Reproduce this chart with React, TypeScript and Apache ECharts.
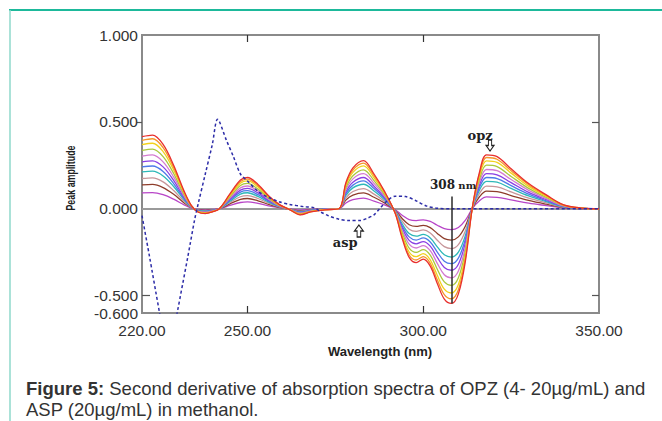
import React, { useEffect, useRef } from "react";
import * as echarts from "echarts";

// Wavelength grid (nm) shared by the OPZ curves
const wavelengths = [
  220, 223, 226, 229, 232, 234, 236, 238, 240, 242, 245, 248, 250, 253, 256, 259,
  262, 265, 268, 272, 276, 278, 280, 283, 286, 289, 292, 294, 296, 298, 300, 302,
  304, 306, 308, 310, 312, 314, 316, 318, 321, 325, 330, 335, 340, 345, 350,
];

// Second-derivative amplitudes of OPZ, lowest to highest concentration
const opzA = [0.091, 0.093, 0.081, 0.055, 0.022, 0.004, -0.004, -0.006, -0.004, 0, 0.019, 0.036, 0.04, 0.031, 0.017, 0.006, -0.001, -0.008, -0.004, -0.001, 0, 0.033, 0.052, 0.061, 0.044, 0.022, -0.006, -0.037, -0.062, -0.068, -0.064, -0.073, -0.095, -0.114, -0.12, -0.108, -0.066, 0.002, 0.046, 0.068, 0.066, 0.051, 0.032, 0.018, 0.005, 0.001, 0];
const opzB = [0.137, 0.14, 0.122, 0.083, 0.033, 0.007, -0.007, -0.009, -0.006, 0, 0.028, 0.054, 0.059, 0.046, 0.025, 0.008, -0.002, -0.012, -0.006, -0.002, 0, 0.05, 0.078, 0.091, 0.066, 0.033, -0.008, -0.056, -0.092, -0.102, -0.096, -0.109, -0.142, -0.172, -0.18, -0.162, -0.099, 0.003, 0.069, 0.102, 0.099, 0.076, 0.048, 0.026, 0.007, 0.001, 0];
const opzC = [0.174, 0.178, 0.155, 0.105, 0.042, 0.008, -0.008, -0.012, -0.008, 0, 0.036, 0.069, 0.076, 0.059, 0.032, 0.011, -0.002, -0.015, -0.008, -0.003, 0, 0.063, 0.099, 0.116, 0.084, 0.042, -0.011, -0.071, -0.118, -0.13, -0.122, -0.139, -0.181, -0.218, -0.229, -0.206, -0.126, 0.004, 0.088, 0.13, 0.126, 0.097, 0.061, 0.034, 0.009, 0.002, 0];
const opzD = [0.212, 0.216, 0.189, 0.128, 0.051, 0.01, -0.01, -0.014, -0.009, 0, 0.043, 0.084, 0.092, 0.071, 0.038, 0.013, -0.003, -0.018, -0.009, -0.003, 0, 0.077, 0.12, 0.141, 0.102, 0.051, -0.013, -0.087, -0.143, -0.158, -0.148, -0.168, -0.219, -0.265, -0.278, -0.25, -0.153, 0.005, 0.107, 0.158, 0.153, 0.117, 0.074, 0.041, 0.011, 0.002, 0];
const opzE = [0.241, 0.246, 0.215, 0.145, 0.058, 0.012, -0.012, -0.016, -0.01, 0, 0.049, 0.096, 0.104, 0.081, 0.044, 0.015, -0.003, -0.02, -0.01, -0.003, 0, 0.087, 0.136, 0.161, 0.116, 0.058, -0.015, -0.099, -0.162, -0.18, -0.168, -0.191, -0.249, -0.302, -0.316, -0.284, -0.174, 0.006, 0.122, 0.18, 0.174, 0.133, 0.084, 0.046, 0.013, 0.002, 0];
const opzF = [0.27, 0.276, 0.241, 0.163, 0.065, 0.013, -0.013, -0.018, -0.012, 0, 0.055, 0.107, 0.117, 0.091, 0.049, 0.016, -0.003, -0.023, -0.012, -0.004, 0, 0.098, 0.153, 0.18, 0.13, 0.065, -0.016, -0.111, -0.182, -0.202, -0.189, -0.215, -0.28, -0.338, -0.354, -0.319, -0.195, 0.007, 0.137, 0.202, 0.195, 0.15, 0.094, 0.052, 0.014, 0.003, 0];
const opzG = [0.303, 0.31, 0.27, 0.183, 0.073, 0.015, -0.015, -0.02, -0.013, 0, 0.062, 0.12, 0.131, 0.102, 0.055, 0.018, -0.004, -0.026, -0.013, -0.004, 0, 0.11, 0.172, 0.202, 0.146, 0.073, -0.018, -0.124, -0.204, -0.226, -0.212, -0.241, -0.314, -0.38, -0.398, -0.358, -0.219, 0.007, 0.153, 0.226, 0.219, 0.168, 0.106, 0.058, 0.016, 0.003, 0];
const opzH = [0.336, 0.343, 0.3, 0.203, 0.081, 0.016, -0.016, -0.023, -0.015, 0, 0.069, 0.134, 0.146, 0.113, 0.061, 0.02, -0.004, -0.028, -0.015, -0.005, 0, 0.122, 0.19, 0.224, 0.162, 0.081, -0.02, -0.138, -0.227, -0.251, -0.235, -0.267, -0.348, -0.421, -0.441, -0.397, -0.243, 0.008, 0.17, 0.251, 0.243, 0.186, 0.117, 0.065, 0.018, 0.003, 0];
const opzI = [0.369, 0.377, 0.329, 0.223, 0.089, 0.018, -0.018, -0.025, -0.016, 0, 0.076, 0.147, 0.16, 0.125, 0.067, 0.022, -0.004, -0.031, -0.016, -0.005, 0, 0.134, 0.209, 0.247, 0.178, 0.089, -0.022, -0.151, -0.249, -0.276, -0.258, -0.294, -0.383, -0.463, -0.485, -0.436, -0.267, 0.009, 0.187, 0.276, 0.267, 0.205, 0.129, 0.071, 0.02, 0.004, 0];
const opzJ = [0.394, 0.403, 0.352, 0.238, 0.095, 0.019, -0.019, -0.027, -0.017, 0, 0.081, 0.157, 0.171, 0.133, 0.071, 0.024, -0.005, -0.033, -0.017, -0.006, 0, 0.143, 0.223, 0.263, 0.19, 0.095, -0.024, -0.162, -0.266, -0.295, -0.276, -0.314, -0.409, -0.494, -0.518, -0.466, -0.285, 0.01, 0.2, 0.295, 0.285, 0.219, 0.138, 0.076, 0.021, 0.004, 0];
const opzK = [0.415, 0.424, 0.37, 0.25, 0.1, 0.02, -0.02, -0.028, -0.018, 0, 0.085, 0.165, 0.18, 0.14, 0.075, 0.025, -0.005, -0.035, -0.018, -0.006, 0, 0.15, 0.235, 0.277, 0.2, 0.1, -0.025, -0.17, -0.28, -0.31, -0.29, -0.33, -0.43, -0.52, -0.545, -0.49, -0.3, 0.01, 0.21, 0.31, 0.3, 0.23, 0.145, 0.08, 0.022, 0.004, 0];

const opzCurves = [opzA, opzB, opzC, opzD, opzE, opzF, opzG, opzH, opzI, opzJ, opzK];

// ASP (20 µg/mL) second derivative
const aspWavelengths = [220, 222, 225, 227.5, 230, 233, 235, 236, 238, 240, 241.5, 244, 246, 248, 250, 253, 256, 259, 262, 266, 269, 271, 273, 276, 279, 282, 284, 286, 288, 290, 292, 295, 298, 301, 304, 308, 330, 350];
const aspValues = [-0.04, -0.26, -0.6, -0.87, -0.6, -0.28, -0.06, 0.03, 0.2, 0.37, 0.515, 0.395, 0.3, 0.2, 0.16, 0.1, 0.065, 0.04, 0.025, 0.012, 0.005, -0.02, -0.04, -0.06, -0.068, -0.068, -0.055, -0.035, 0.01, 0.05, 0.072, 0.07, 0.045, 0.015, 0.003, 0, 0, 0];

const xLabelValues = [220, 250, 300, 350];
const xTickValues = [250, 300];
const yLabelValues = [1, 0.5, 0, -0.5, -0.6];

const marker308 = 308;
const marker308Top = 0.07;
const marker308Bottom = -0.545;

// styles (kept apart from data)
const opzColors = ["#b845c8", "#8e3d2b", "#c7969a", "#2db8b8", "#4d7ae8", "#8a3fe3", "#d47bd0", "#a9c83c", "#f2d21c", "#f5962a", "#e8302e"];
const aspColor = "#2c2ca8";

const downArrow = "path://M3,0 L7,0 L7,6 L10,6 L5,12 L0,6 L3,6 Z";
const upArrow = "path://M5,0 L10,6 L7,6 L7,12 L3,12 L3,6 L0,6 Z";

export default function App() {
  const ref = useRef<HTMLDivElement>(null);
  useEffect(() => {
    if (!ref.current) return;
    const chart = echarts.init(ref.current, undefined, { renderer: "svg" });
    const labelFont = { fontFamily: "Liberation Sans", fontSize: 15.5, color: "#333" };
    const hiddenAxisBase = {
      min: -0.6,
      max: 1,
      type: "value" as const,
      axisLine: { show: false, onZero: false },
      splitLine: { show: false },
      axisLabel: { show: false },
    };
    const transparentItem = { color: "rgba(0,0,0,0)" };
    const serifLabel = (text: string, size: number) => ({
      show: true,
      position: "inside",
      formatter: text,
      fontFamily: "DejaVu Serif",
      fontWeight: "bold",
      fontSize: size,
      color: "#222",
    });

    const series: any[] = opzCurves.map((vals, i) => ({
      type: "line",
      name: "OPZ " + (i + 1),
      data: wavelengths.map((w, j) => [w, vals[j]]),
      smooth: 0.35,
      symbol: "none",
      silent: true,
      z: 3,
      lineStyle: { color: opzColors[i], width: 1.3 },
    }));

    series.unshift({
      type: "line",
      name: "baseline",
      data: [],
      silent: true,
      z: 1,
      markLine: {
        silent: true,
        z: 1,
        symbol: "none",
        label: { show: false },
        lineStyle: { color: "#9a9a9a", width: 2, type: "solid" },
        data: [{ yAxis: 0 }],
      },
    });

    series.push({
      type: "line",
      name: "ASP",
      data: aspWavelengths.map((w, j) => [w, aspValues[j]]),
      smooth: 0.3,
      symbol: "none",
      silent: true,
      z: 4,
      lineStyle: { color: aspColor, width: 1.5, type: [3, 2.5] },
      markLine: {
        silent: true,
        z: 6,
        symbol: "none",
        label: { show: false },
        lineStyle: { color: "#2a2a2a", width: 1.5, type: "solid" },
        data: [[{ coord: [marker308, marker308Top] }, { coord: [marker308, marker308Bottom] }]],
      },
      markPoint: {
        silent: true,
        z: 7,
        data: [
          {
            coord: [308.5, 0.136],
            symbol: "rect",
            symbolSize: 1,
            itemStyle: transparentItem,
            label: {
              show: true,
              position: "inside",
              formatter: "{a|308} {b|nm}",
              rich: {
                a: { fontFamily: "DejaVu Serif", fontWeight: "bold", fontSize: 12, color: "#222" },
                b: { fontFamily: "DejaVu Serif", fontWeight: "bold", fontSize: 10, color: "#222" },
              },
            },
          },
          { coord: [316.2, 0.424], symbol: "rect", symbolSize: 1, itemStyle: transparentItem, label: serifLabel("opz", 13) },
          { coord: [319.0, 0.364], symbol: downArrow, symbolSize: [8, 11], itemStyle: { color: "#fff", borderColor: "#222", borderWidth: 1.1 } },
          { coord: [277.8, -0.193], symbol: "rect", symbolSize: 1, itemStyle: transparentItem, label: serifLabel("asp", 13) },
          { coord: [281.7, -0.128], symbol: upArrow, symbolSize: [9, 12], itemStyle: { color: "#fff", borderColor: "#222", borderWidth: 1.1 } },
        ],
      },
    });

    chart.setOption({
      animation: false,
      backgroundColor: "#ffffff",
      grid: {
        left: 142,
        right: 63,
        top: 35,
        bottom: 108,
        show: true,
        borderColor: "#8a8a8a",
        borderWidth: 2,
        backgroundColor: "transparent",
      },
      xAxis: [
        {
          type: "value",
          min: 220,
          max: 350,
          position: "bottom",
          axisLine: { show: false, onZero: false },
          splitLine: { show: false },
          axisTick: { show: true, inside: true, length: 7, customValues: xTickValues, lineStyle: { color: "#333", width: 1.2 } },
          axisLabel: { ...labelFont, margin: 9, customValues: xLabelValues, formatter: (v: number) => v.toFixed(2) },
        },
        {
          type: "value",
          min: 220,
          max: 350,
          position: "top",
          axisLine: { show: false, onZero: false },
          splitLine: { show: false },
          axisLabel: { show: false },
          axisTick: { show: true, inside: true, length: 7, customValues: xTickValues, lineStyle: { color: "#333", width: 1.2 } },
        },
      ],
      yAxis: [
        {
          type: "value",
          min: -0.6,
          max: 1,
          position: "left",
          axisLine: { show: false, onZero: false },
          splitLine: { show: false },
          axisTick: { show: true, inside: false, length: 5, customValues: [0.5], lineStyle: { color: "#555", width: 1.2 } },
          axisLabel: { ...labelFont, margin: 4, customValues: yLabelValues, formatter: (v: number) => v.toFixed(3) },
        },
        {
          ...hiddenAxisBase,
          position: "right",
          axisTick: { show: true, inside: true, length: 7, customValues: [0.5, -0.5], lineStyle: { color: "#555", width: 1.2 } },
        },
        {
          ...hiddenAxisBase,
          position: "left",
          axisTick: { show: true, inside: true, length: 8, customValues: [-0.5], lineStyle: { color: "#555", width: 1.2 } },
        },
      ],
      graphic: [
        { type: "line", shape: { x1: 9, y1: 10, x2: 662, y2: 10 }, style: { stroke: "#1db99b", lineWidth: 2 }, silent: true },
        { type: "line", shape: { x1: 10, y1: 10, x2: 10, y2: 421 }, style: { stroke: "#8fd9cb", lineWidth: 1.5 }, silent: true },
        {
          type: "text",
          x: 70,
          y: 178,
          rotation: Math.PI / 2,
          scaleX: 0.74,
          style: { text: "Peak amplitude", font: "bold 12px 'Liberation Sans'", fill: "#222", textAlign: "center", textVerticalAlign: "middle" },
          silent: true,
        },
        {
          type: "text",
          x: 380,
          y: 351,
          style: { text: "Wavelength (nm)", font: "bold 13px 'Liberation Sans'", fill: "#222", textAlign: "center", textVerticalAlign: "middle" },
          silent: true,
        },
        {
          type: "text",
          x: 26,
          y: 378,
          style: {
            text: "{b|Figure 5:} Second derivative of absorption spectra of OPZ (4- 20µg/mL) and\nASP (20µg/mL) in methanol.",
            font: "18.5px 'Liberation Sans'",
            fill: "#333",
            lineHeight: 21,
            rich: { b: { fontWeight: "bold", fontSize: 18.5, fontFamily: "Liberation Sans", fill: "#333", lineHeight: 21 } },
          },
          silent: true,
        },
      ],
      series,
    });
    return () => chart.dispose();
  }, []);
  return <div ref={ref} style={{ position: "absolute", left: 0, top: 0, width: 662, height: 421 }} />;
}
